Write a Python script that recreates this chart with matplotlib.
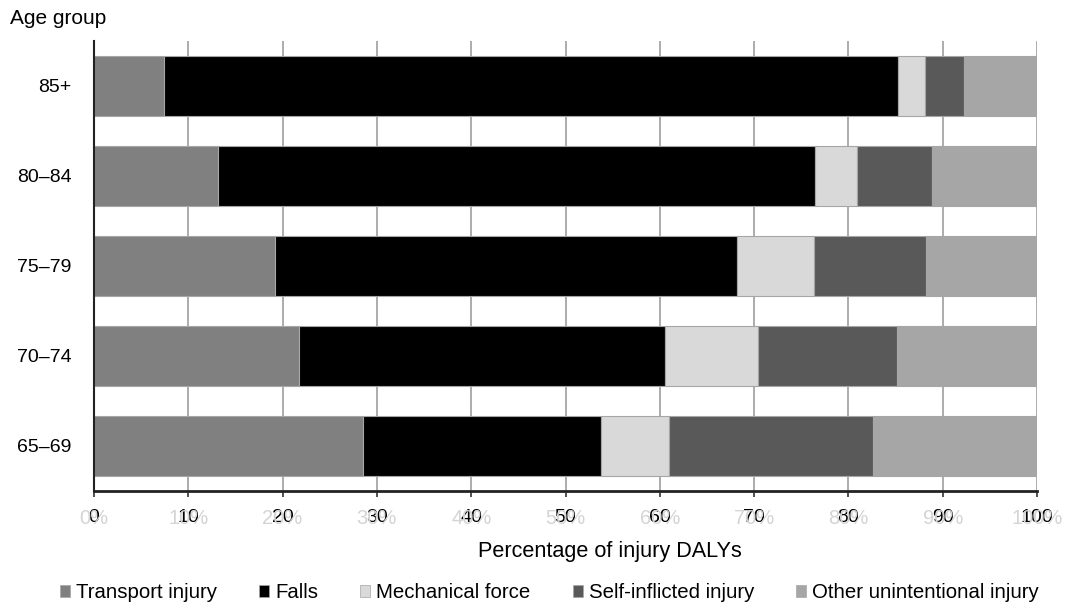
import matplotlib
matplotlib.use("Agg")
import matplotlib.pyplot as plt
from matplotlib.patches import Patch
from matplotlib.transforms import blended_transform_factory, ScaledTranslation

plt.rcParams['font.family'] = ['Liberation Sans', 'DejaVu Sans']

age_groups = ["65–69", "70–74", "75–79", "80–84", "85+"]
series_names = ["Transport injury", "Falls", "Mechanical force",
                "Self-inflicted injury", "Other unintentional injury"]
transport = [28.5, 21.7, 19.2, 13.2, 7.4]
falls = [25.3, 38.8, 49.0, 63.3, 77.9]
mechanical = [7.2, 9.9, 8.1, 4.4, 2.8]
self_inflicted = [21.6, 14.8, 11.9, 8.0, 4.2]
other = [17.4, 14.8, 11.8, 11.1, 7.7]
colors = ["#808080", "#000000", "#d9d9d9", "#595959", "#a6a6a6"]
xticks = [0, 10, 20, 30, 40, 50, 60, 70, 80, 90, 100]
xtick_labels = ["0", "10", "20", "30", "40", "50", "60", "70", "80", "90", "100"]
ghost_labels = ["0%", "10%", "20%", "30%", "40%", "50%", "60%", "70%", "80%", "90%", "100%"]

fig = plt.figure(figsize=(10.69, 6.09), dpi=100)
ax = fig.add_axes([0.0879, 0.1938, 0.8822, 0.7389])

data = [transport, falls, mechanical, self_inflicted, other]
y = list(range(len(age_groups)))
left = [0.0] * len(age_groups)
for vals, name, c in zip(data, series_names, colors):
    ax.barh(y, vals, left=left, height=0.67, color=c, edgecolor="#a6a6a6",
            linewidth=0.8, label=name, zorder=3)
    left = [l + v for l, v in zip(left, vals)]

ax.set_xlim(0, 100)
ax.set_ylim(-0.5, 4.5)
ax.set_yticks(y)
ax.set_yticklabels(age_groups, fontsize=14)
ax.tick_params(axis='y', length=0, pad=16)
ax.set_xticks(xticks)
ax.set_xticklabels(xtick_labels, fontsize=14, zorder=5)
ax.tick_params(axis='x', length=4, width=1.2, color="#333333", pad=9)

trans = blended_transform_factory(ax.transData, ax.transAxes) + \
    ScaledTranslation(0, -13 / 72, fig.dpi_scale_trans)
for xv, gl in zip(xticks, ghost_labels):
    ax.text(xv, 0.0, gl, transform=trans, ha='center', va='top',
            fontsize=14.5, color="#d4d4d4", zorder=1, clip_on=False)

ax.xaxis.grid(True, color="#a6a6a6", linewidth=1.3, zorder=0)
ax.set_axisbelow(True)
for s in ["top", "right"]:
    ax.spines[s].set_visible(False)
ax.spines["bottom"].set_linewidth(2)
ax.spines["bottom"].set_color("#222222")
ax.spines["left"].set_linewidth(1.5)
ax.spines["left"].set_color("#222222")
ax.spines["bottom"].set_zorder(4)
ax.spines["left"].set_zorder(4)

fig.text(610 / 1069, 1 - 551 / 609, "Percentage of injury DALYs", fontsize=15.6,
         ha='center', va='center')
fig.text(10 / 1069, 1 - 19 / 609, "Age group", fontsize=15, ha='left', va='center')

handles = [Patch(facecolor=c, edgecolor="#a6a6a6", linewidth=0.5) for c in colors]
fig.legend(handles, series_names, loc='center', bbox_to_anchor=(0.514, 0.027),
           ncol=5, frameon=False, fontsize=14.7, handlelength=0.5, handleheight=0.55,
           handletextpad=0.3, columnspacing=2.05, borderaxespad=0)

fig.savefig("out.png", dpi=100)
